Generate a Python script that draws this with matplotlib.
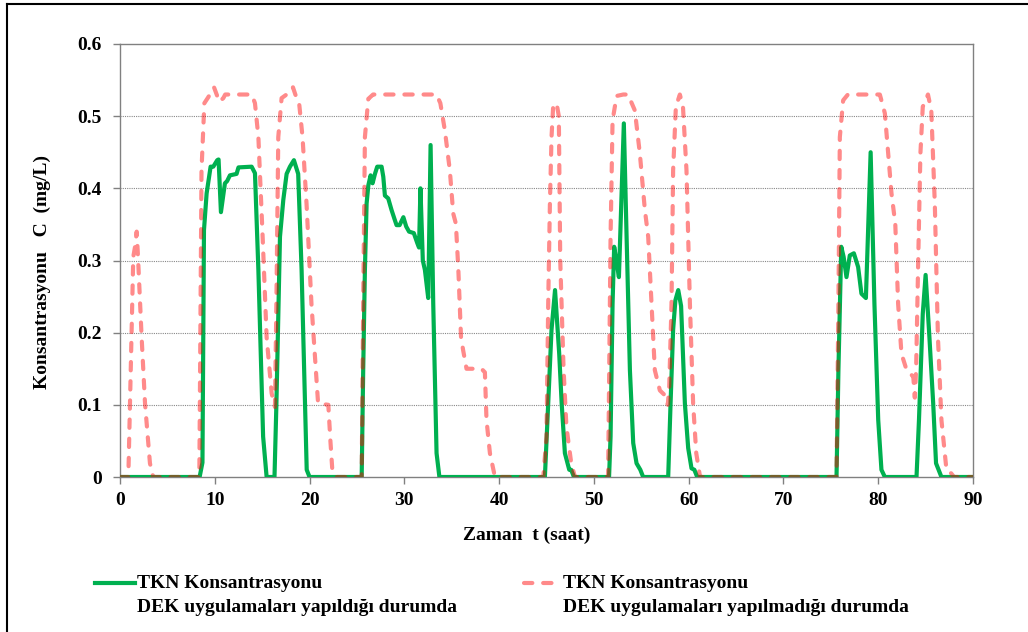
import matplotlib
matplotlib.use('Agg')
import matplotlib.pyplot as plt
from matplotlib.lines import Line2D

# TKN with DEK applications (green, solid)
green_pts = [(0, 0), (8.4, 0), (8.7, 0.02), (8.86, 0.342), (9.14, 0.393), (9.56, 0.43), (9.84, 0.43),
             (10.26, 0.439), (10.4, 0.44), (10.65, 0.367), (11.07, 0.407), (11.3, 0.41), (11.6, 0.418),
             (12.3, 0.42), (12.5, 0.429), (13.89, 0.43), (14.24, 0.421), (14.6, 0.287), (15.1, 0.056),
             (15.47, 0), (16.3, 0), (16.5, 0.1), (16.88, 0.333), (17.23, 0.384), (17.58, 0.42),
             (17.93, 0.43), (18.35, 0.439), (18.8, 0.42), (19.16, 0.287), (19.7, 0.01), (20.0, 0),
             (25.5, 0), (25.66, 0.148), (25.84, 0.287), (26.02, 0.379), (26.2, 0.404), (26.44, 0.418),
             (26.65, 0.407), (26.9, 0.42), (27.14, 0.43), (27.6, 0.43), (27.78, 0.416), (27.95, 0.39),
             (28.3, 0.386), (28.65, 0.37), (29.0, 0.356), (29.18, 0.349), (29.5, 0.349), (29.9, 0.36),
             (30.2, 0.347), (30.5, 0.34), (31.0, 0.338), (31.37, 0.324), (31.55, 0.318), (31.7, 0.4),
             (31.95, 0.3), (32.17, 0.287), (32.52, 0.248), (32.77, 0.46), (33.05, 0.24), (33.4, 0.033),
             (33.7, 0),
             (44.83, 0), (45.18, 0.102), (45.53, 0.204), (45.9, 0.259), (46.34, 0.171), (46.6, 0.102),
             (46.94, 0.033), (47.4, 0.01), (47.6, 0.01), (47.9, 0),
             (51.6, 0), (51.76, 0.056), (51.97, 0.24), (52.14, 0.319), (52.4, 0.298), (52.64, 0.277),
             (53.16, 0.49), (53.45, 0.333), (53.8, 0.148), (54.15, 0.047), (54.5, 0.019), (54.9, 0.01),
             (55.2, 0),
             (57.84, 0), (58.09, 0.102), (58.36, 0.204), (58.6, 0.245), (58.9, 0.259), (59.2, 0.237),
             (59.6, 0.102), (59.95, 0.04), (60.3, 0.012), (60.6, 0.01), (60.9, 0),
             (75.6, 0), (75.8, 0.148), (76.1, 0.319), (76.35, 0.305), (76.65, 0.277), (77.0, 0.307),
             (77.43, 0.31), (77.88, 0.291), (78.23, 0.254), (78.7, 0.248), (79.2, 0.45), (79.6, 0.24),
             (80.0, 0.079), (80.34, 0.01), (80.7, 0),
             (84.04, 0), (84.3, 0.079), (84.7, 0.226), (85.0, 0.28), (85.4, 0.194), (85.8, 0.102),
             (86.1, 0.019), (86.67, 0), (90, 0)]

# TKN without DEK applications (red, dashed)
red_pts = [(0, 0), (0.88, 0), (1.4, 0.305), (1.6, 0.32), (1.76, 0.34), (1.9, 0.305), (2.28, 0.194),
           (2.64, 0.102), (3.16, 0.019), (3.5, 0),
           (8.37, 0), (8.6, 0.425), (8.9, 0.518), (9.3, 0.526), (9.92, 0.54), (10.48, 0.52),
           (10.9, 0.525), (11.1, 0.53), (13.9, 0.53), (14.24, 0.518), (14.6, 0.471), (15.05, 0.333),
           (15.47, 0.194), (16.0, 0.116), (16.35, 0.097), (16.5, 0.24), (16.7, 0.471), (17.05, 0.525),
           (17.58, 0.53), (18.1, 0.535), (18.25, 0.54), (18.5, 0.53), (18.9, 0.518), (19.26, 0.471),
           (19.68, 0.379), (20.2, 0.24), (20.9, 0.102), (21.98, 0.1), (22.2, 0.05), (22.4, 0.01),
           (22.8, 0),
           (25.5, 0), (25.66, 0.24), (25.84, 0.471), (26.2, 0.524), (26.7, 0.53), (33.4, 0.53),
           (33.8, 0.518), (34.28, 0.48), (34.8, 0.425), (35.16, 0.365), (35.44, 0.351), (35.7, 0.287),
           (35.98, 0.194), (36.2, 0.176), (36.56, 0.15), (38.14, 0.15), (38.5, 0.145), (38.67, 0.079),
           (39.03, 0.033), (39.56, 0),
           (44.66, 0), (45.0, 0.056), (45.18, 0.24), (45.36, 0.379), (45.53, 0.471), (45.7, 0.513),
           (46.06, 0.518), (46.3, 0.5), (46.45, 0.3), (46.8, 0.15), (47.1, 0.07), (47.6, 0.02),
           (48.0, 0),
           (51.5, 0), (51.76, 0.333), (51.97, 0.494), (52.4, 0.528), (53.1, 0.53), (53.6, 0.53),
           (54.32, 0.508), (54.85, 0.448), (55.38, 0.37), (55.73, 0.333), (56.08, 0.24), (56.43, 0.148),
           (56.96, 0.12), (57.67, 0.111), (57.8, 0.1), (57.95, 0.125), (58.19, 0.24), (58.36, 0.425),
           (58.65, 0.513), (59.07, 0.53), (59.4, 0.513), (59.77, 0.425), (60.13, 0.24), (60.47, 0.102),
           (60.8, 0.033), (61.2, 0),
           (75.6, 0), (75.8, 0.24), (75.95, 0.471), (76.3, 0.522), (76.8, 0.53), (80.17, 0.53),
           (80.7, 0.504), (81.05, 0.448), (81.4, 0.393), (81.8, 0.351), (82.1, 0.24), (82.45, 0.171),
           (83.0, 0.148), (83.7, 0.139), (83.86, 0.11), (84.0, 0.15), (84.2, 0.287), (84.45, 0.448),
           (84.7, 0.513), (85.25, 0.53), (85.6, 0.508), (85.97, 0.379), (86.3, 0.194), (86.67, 0.079),
           (87.2, 0.01), (87.7, 0.005), (88.0, 0), (90, 0)]

x_ticks = [0, 10, 20, 30, 40, 50, 60, 70, 80, 90]
y_ticks = [0, 0.1, 0.2, 0.3, 0.4, 0.5, 0.6]
y_tick_labels = ['0', '0.1', '0.2', '0.3', '0.4', '0.5', '0.6']
label_green = ['TKN Konsantrasyonu', 'DEK uygulamaları yapıldığı durumda']
label_red = ['TKN Konsantrasyonu', 'DEK uygulamaları yapılmadığı durumda']

plt.rcParams['font.family'] = ['Liberation Serif', 'DejaVu Serif']
plt.rcParams['font.weight'] = 'bold'
plt.rcParams['font.size'] = 14

fig = plt.figure(figsize=(10.28, 6.32), dpi=100)
ax = fig.add_axes([120/1028, 155/632, 853/1028, 433/632])

t_g, c_g = zip(*green_pts)
t_r, c_r = zip(*red_pts)
GREEN = '#00B050'
RED_DASH = dict(color='red', alpha=0.46, lw=3, dashes=(2.0, 2.6), dash_capstyle='round')
ax.plot(t_g, c_g, color=GREEN, lw=3, zorder=3, solid_joinstyle='round')
ax.plot(t_r, c_r, zorder=4, **RED_DASH)

ax.set_xlim(0, 90)
ax.set_ylim(0, 0.6)
ax.set_xticks(x_ticks)
ax.set_yticks(y_ticks)
ax.set_yticklabels(y_tick_labels)
ax.tick_params(direction='out', length=5, width=1, color='#808080', pad=6)
ax.tick_params(axis='y', pad=8)
for s in ax.spines.values():
    s.set_color('#808080')
    s.set_linewidth(1)
for y in y_ticks[1:-1]:
    ax.axhline(y, color='#888888', lw=0.8, ls=(0, (1, 1)), zorder=1)

ax.set_xlabel('Zaman  t (saat)', fontweight='bold')
ax.xaxis.set_label_coords(0.477, -0.115)
ax.set_ylabel('Konsantrasyonu   C  (mg/L)', fontweight='bold')
ax.yaxis.set_label_coords(-0.081, 0.473)

# legend, placed by hand
def fx(px):
    return px / 1028

def fy(py):
    return 1 - py / 632

fig.add_artist(Line2D([fx(95), fx(135)], [fy(583), fy(583)], color=GREEN, lw=3,
                      transform=fig.transFigure))
fig.add_artist(Line2D([fx(524), fx(554)], [fy(583), fy(583)], transform=fig.transFigure, **RED_DASH))
fig.text(fx(137), fy(583), label_green[0], va='center', ha='left')
fig.text(fx(137), fy(607), label_green[1], va='center', ha='left')
fig.text(fx(563), fy(583), label_red[0], va='center', ha='left')
fig.text(fx(563), fy(607), label_red[1], va='center', ha='left')

# outer frame (clipped at right and bottom like the reference)
fig.add_artist(Line2D([fx(7), 1.0], [fy(4), fy(4)], color='black', lw=1.5, transform=fig.transFigure))
fig.add_artist(Line2D([fx(7), fx(7)], [fy(4), 0.0], color='black', lw=1.5, transform=fig.transFigure))

fig.savefig('out.png', dpi=100)
